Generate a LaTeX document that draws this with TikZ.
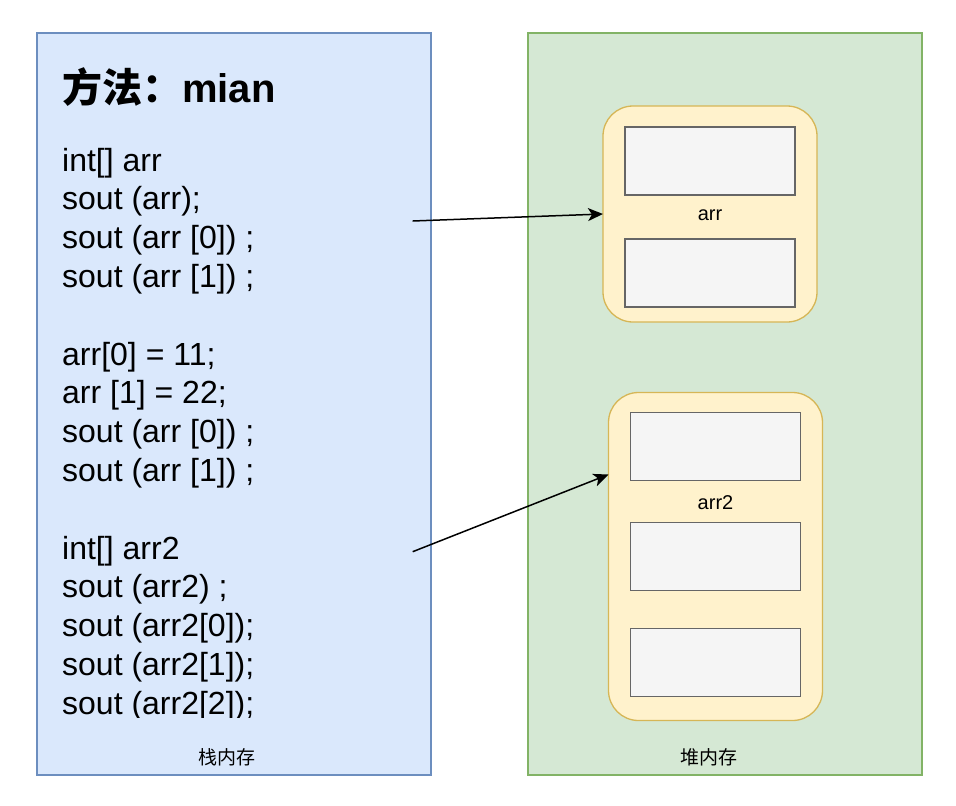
\documentclass[tikz,border=0pt]{standalone}
\usepackage{fontspec}
\setmainfont{Liberation Sans}
\newfontfamily\cjk{Noto Sans CJK SC}
\usetikzlibrary{arrows.meta,calc}
\definecolor{stackfill}{HTML}{DAE8FC}
\definecolor{stackline}{HTML}{6C8EBF}
\definecolor{heapfill}{HTML}{D5E8D4}
\definecolor{heapline}{HTML}{82B366}
\definecolor{objfill}{HTML}{FFF2CC}
\definecolor{objline}{HTML}{D6B656}
\definecolor{cellfill}{HTML}{F5F5F5}
\definecolor{cellline}{HTML}{666666}
\begin{document}
\begin{tikzpicture}[x=1pt,y=-1pt,
  panel/.style={draw, line width=1.3pt, inner sep=0pt, outer sep=0pt, minimum width=394pt, minimum height=742pt},
  stackpanel/.style={panel, draw=stackline, fill=stackfill},
  heappanel/.style={panel, draw=heapline, fill=heapfill},
  objbox/.style={draw=objline, fill=objfill, line width=1.3pt, rounded corners=30pt, inner sep=0pt, outer sep=0pt, minimum width=214pt},
  cell/.style={draw=cellline, fill=cellfill, line width=1.3pt, inner sep=0pt, outer sep=0pt, minimum width=170pt, minimum height=68pt},
  small/.style={font=\fontsize{20}{24}\selectfont, inner sep=0pt},
  cjklabel/.style={font=\fontsize{19}{23}\selectfont\cjk, inner sep=0pt},
  codeline/.style={anchor=base west, inner sep=0pt, font=\fontsize{32}{38.8}\selectfont},
  ptr/.style={line width=1.5pt, -{Stealth[length=15pt,width=13pt,inset=4pt]}}
]
\useasboundingbox (0,0) rectangle (956,806);

\node[stackpanel] (stack) at (234,404) {};
\node[heappanel] (heap) at (725,404) {};

\node[cjklabel] (stacklbl) at (227,757) {栈内存};
\node[cjklabel] (heaplbl) at (709,757) {堆内存};

\node[anchor=base west, inner sep=0pt, font=\fontsize{40}{48}\selectfont\bfseries] (title) at (62,102) {{\cjk\bfseries 方法：}mian};

\begin{scope}
\clip (37,33) rectangle (431,717);
\foreach \t [count=\k from 0] in {int[] arr, sout (arr);, sout (arr [0]) ;, sout (arr [1]) ;, , arr[0] = 11;, arr [1] = 22;, sout (arr [0]) ;, sout (arr [1]) ;, , int[] arr2, sout (arr2) ;, sout (arr2[0]);, sout (arr2[1]);, sout (arr2[2]);}{
  \node[codeline] (code\k) at (62,{171+38.8*\k}) {\t};
}
\end{scope}

\node[objbox, minimum height=216pt] (obj1) at (710,214) {};
\node[cell] (c11) at (710,161) {};
\node[cell] (c12) at (710,273) {};
\node[small] (arr1lbl) at (710,215) {arr};

\node[objbox, minimum height=328pt] (obj2) at (715.5,556.5) {};
\node[cell] (c21) at (715.5,446.7) {};
\node[cell] (c22) at (715.5,556.5) {};
\node[cell] (c23) at (715.5,662.5) {};
\node[small] (arr2lbl) at (715.5,503) {arr2};

\coordinate (s1) at (412.7,221);
\coordinate (s2) at (412.7,551.7);
\coordinate (t2) at ($(obj2.north west)!0.25!(obj2.south west)$);

\draw[ptr] (s1) -- (obj1.west);
\draw[ptr] (s2) -- (t2);
\end{tikzpicture}
\end{document}
